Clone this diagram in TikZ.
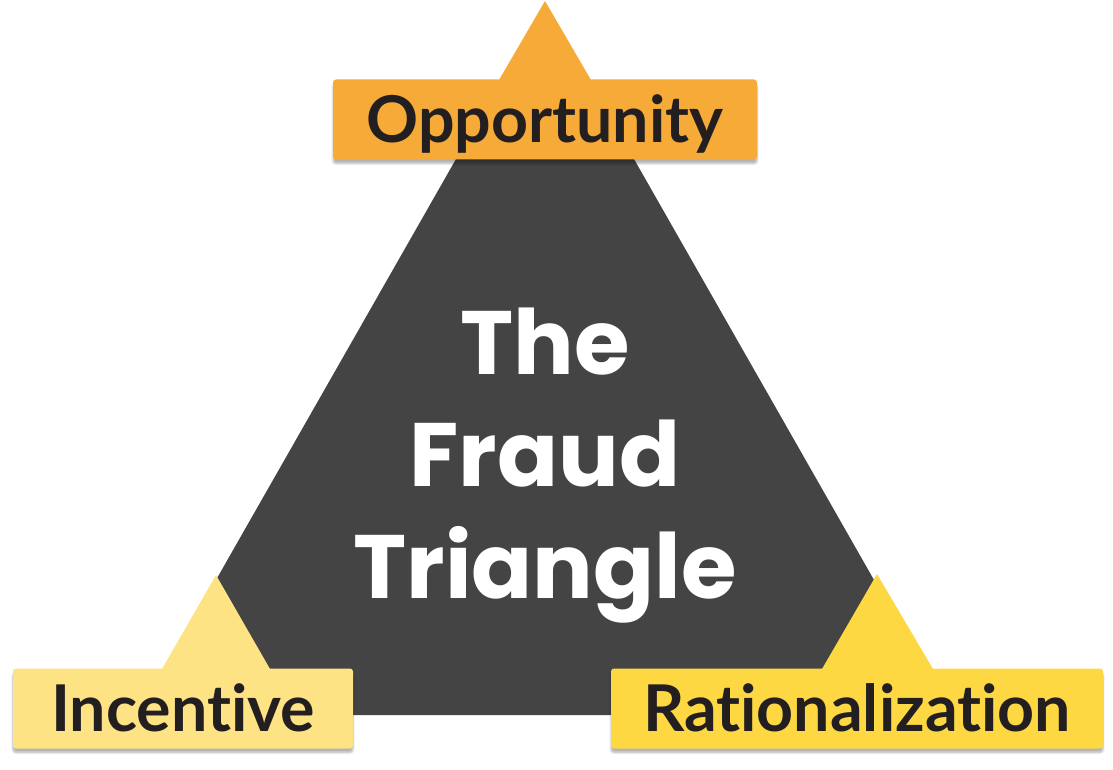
\documentclass[tikz,border=0pt]{standalone}
\usepackage{fontspec}
\setmainfont{Lato}[Ligatures=NoCommon]
\newfontfamily\titlefont{Poppins}
\usetikzlibrary{calc}
\usetikzlibrary{positioning}
\usetikzlibrary{shadows.blur}

\definecolor{darkgrey}{HTML}{444444}
\definecolor{opporange}{HTML}{F6AA37}
\definecolor{incyellow}{HTML}{FDE384}
\definecolor{ratyellow}{HTML}{FED843}
\definecolor{labelink}{HTML}{231F20}

\tikzset{
    labelbox/.style={rounded corners=3pt, inner sep=0pt, minimum height=80pt,
        text height=46pt, text depth=0pt, text=labelink,
        font=\fontsize{64.5}{70}\selectfont\bfseries,
        blur shadow={shadow xshift=0pt, shadow yshift=-4pt, shadow opacity=30, shadow blur steps=6}},
    titletext/.style={text=white, align=center, inner sep=0pt,
        font=\titlefont\bfseries\fontsize{90}{112}\selectfont}
}

\begin{document}
\begin{tikzpicture}[x=1pt, y=-1pt]
    % Frame
    \useasboundingbox (0,0) rectangle (1113,770);

    % Constants
    \pgfmathsetmacro{\xmid}{545}
    \pgfmathsetmacro{\ybase}{715}

    % Big triangle
    \coordinate (Top) at (\xmid, 3);
    \coordinate (Left) at (139, \ybase);
    \coordinate (Right) at (951, \ybase);
    \fill [darkgrey] (Top) -- (Left) -- (Right) -- cycle;

    % Title
    \node [titletext, anchor=north] (title) at (\xmid, 308) {The\\Fraud\\Triangle};

    % Corner marks
    \fill [opporange] (\xmid, 1) -- (591, 80) -- (499, 80) -- cycle;
    \fill [incyellow] (216, 575) -- (270, 669) -- (162, 669) -- cycle;
    \fill [ratyellow] (877, 574) -- (933, 669) -- (822, 669) -- cycle;

    % Labels
    \node [labelbox, fill=opporange, minimum width=424pt] (opp) at (\xmid, 119.5) {Opportunity};
    \node [labelbox, fill=incyellow, minimum width=340pt] (inc) at (183, 708.5) {Incentive};
    \node [labelbox, fill=ratyellow, minimum width=492pt] (rat) at (857, 708.5) {Rationalization};

\end{tikzpicture}
\end{document}
